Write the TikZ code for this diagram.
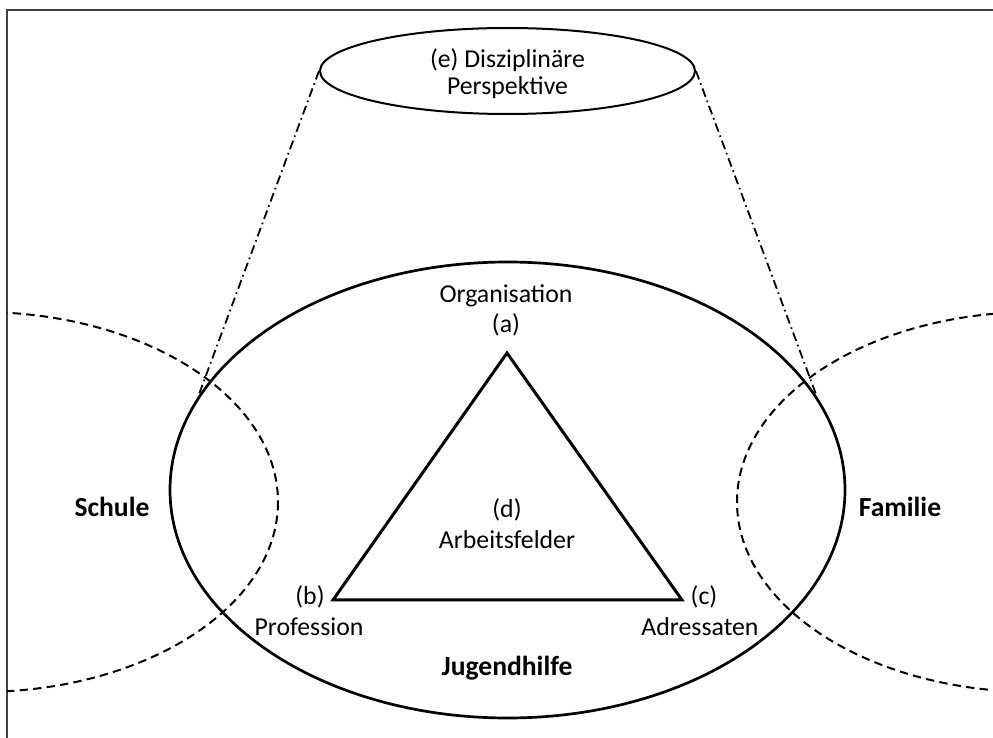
\documentclass[tikz,border=0pt]{standalone}
\usepackage{fontspec}
\setmainfont{Carlito}
\usetikzlibrary{shapes.geometric}
\begin{document}
\begin{tikzpicture}[x=0.5pt,y=-0.5pt,
  lbl/.style={font=\fontsize{12.9}{13.5}\selectfont, inner sep=0pt, align=center},
  blbl/.style={font=\fontsize{13.8}{15}\selectfont\bfseries, inner sep=0pt},
  solidline/.style={line width=1.35pt, black},
  dashline/.style={line width=1pt, dash pattern=on 4.2pt off 2.6pt},
  dashdotline/.style={line width=0.9pt, dash pattern=on 4.5pt off 2pt on 0.8pt off 2pt},
  frameline/.style={line width=1.1pt, black!75}]
\useasboundingbox (0,0) rectangle (993,738);
% frame
\draw[frameline] (7,760) -- (7,10) -- (1010,10);
% side dashed ellipses, clipped to the frame
\begin{scope}
\clip (7,10) rectangle (1010,760);
\draw[dashline] (-20,502) ellipse [x radius=298, y radius=190];
\draw[dashline] (1035,502) ellipse [x radius=298, y radius=190];
\end{scope}
% big ellipse
\draw[solidline] (507.5,490) ellipse [x radius=337.5, y radius=228];
% top ellipse
\node[draw, ellipse, line width=1pt, minimum width=187.5pt, minimum height=43pt, inner sep=0pt] (e) at (507.5,71) {};
\node[lbl] (etext) at (507.5,74) {(e) Disziplinäre\\Perspektive};
% dash-dot connectors
\coordinate (lend) at (198,397);
\coordinate (rend) at (817,397);
\draw[dashdotline] (e.west) -- (lend);
\draw[dashdotline] (e.east) -- (rend);
% triangle
\coordinate (A) at (507,353);
\coordinate (B) at (333,600);
\coordinate (C) at (682,600);
\draw[line width=1.5pt, line join=miter] (A) -- (B) -- (C) -- cycle;
% labels
\node[lbl] (org) at (506,296) {Organisation};
\node[lbl] (a) at (506,325) {(a)};
\node[lbl] (d) at (507,510) {(d)};
\node[lbl] (arb) at (507,540) {Arbeitsfelder};
\node[lbl] (b) at (310,597) {(b)};
\node[lbl] (prof) at (309,627) {Profession};
\node[lbl] (c) at (704,597) {(c)};
\node[lbl] (adr) at (700,627) {Adressaten};
\node[blbl] (jug) at (507,668) {Jugendhilfe};
\node[blbl] (schule) at (112,507) {Schule};
\node[blbl] (familie) at (900,507) {Familie};
\end{tikzpicture}
\end{document}
